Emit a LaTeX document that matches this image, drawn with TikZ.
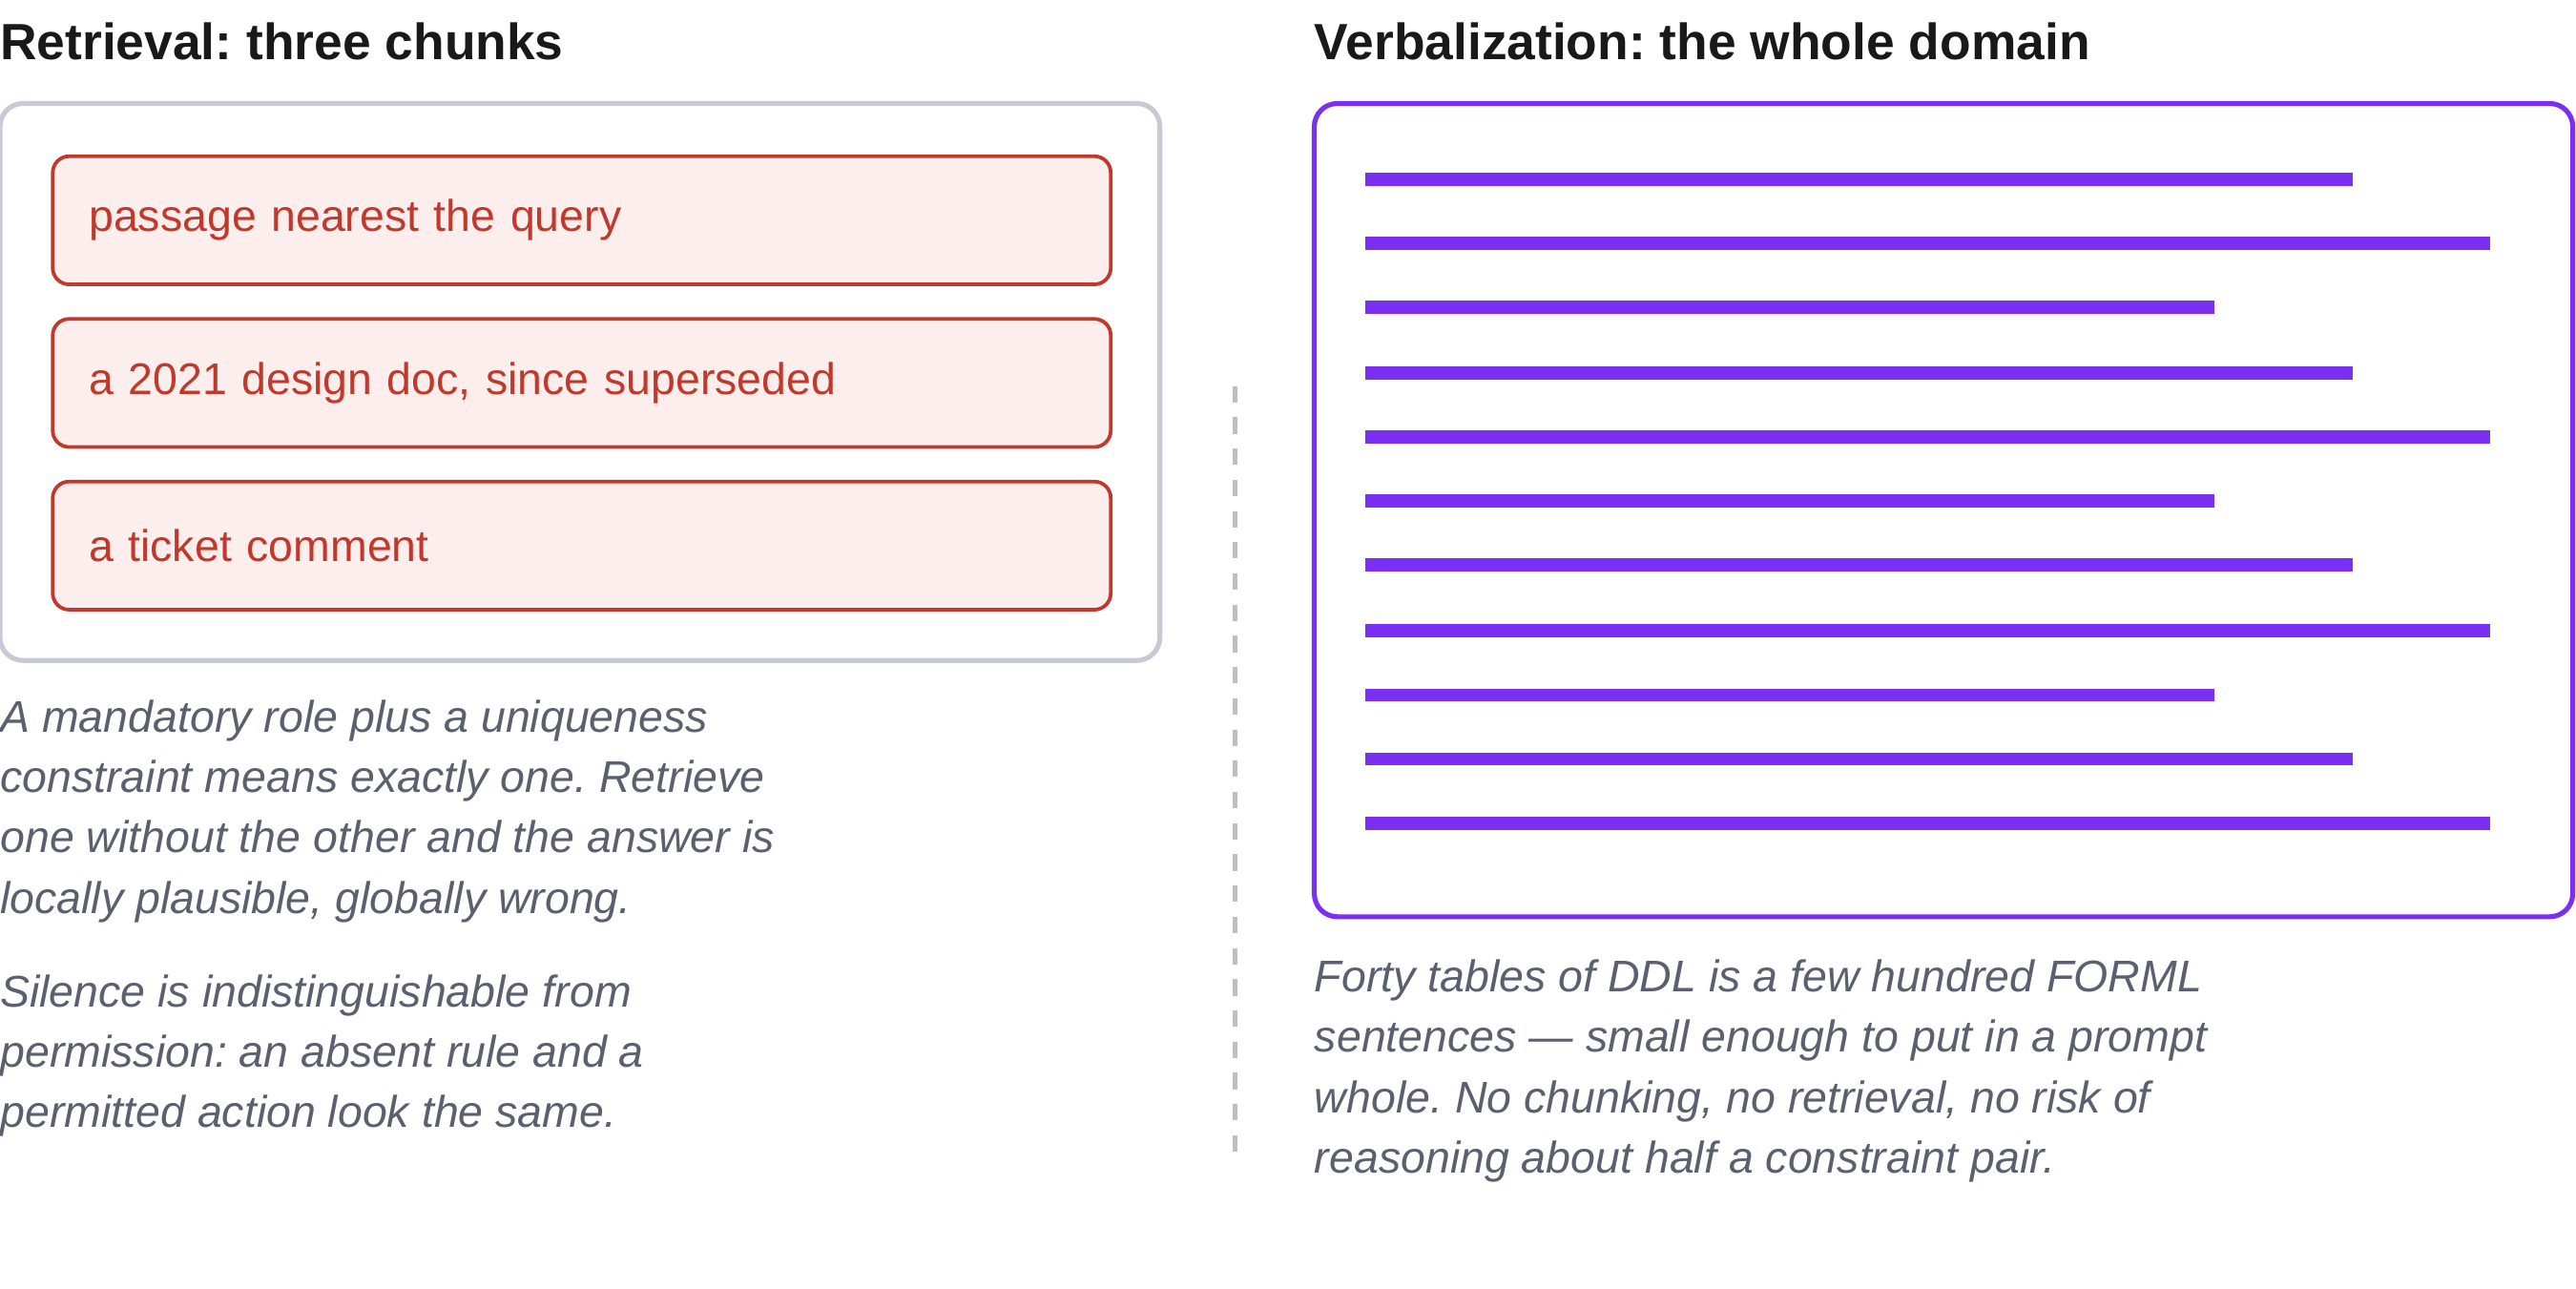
\documentclass[tikz,border=0pt]{standalone}
\usepackage{fontspec}
\setmainfont{Liberation Sans}
\frenchspacing
\definecolor{purp}{HTML}{7B2FF2}
\definecolor{redt}{HTML}{C0392B}
\definecolor{redf}{HTML}{FDEEEE}
\definecolor{notec}{HTML}{5A6070}
\definecolor{boxg}{HTML}{C8C8D6}
\begin{document}
\begin{tikzpicture}[x=1pt,y=-1pt,
  ttl/.style={anchor=west,font=\fontsize{31}{34}\selectfont\bfseries,text=black!90,inner sep=0},
  chunk/.style={draw=redt,fill=redf,line width=2.2pt,rounded corners=10pt,minimum width=644pt,minimum height=78pt,anchor=north west,inner xsep=21pt,text width=600pt,align=left,font=\fontsize{27}{30}\selectfont,text=redt},
  note/.style={anchor=north west,inner sep=0,align=left,font=\fontsize{27}{36.7}\selectfont\itshape,text=notec}]
\useasboundingbox (0,0) rectangle (1568,784);
\node[ttl] (t1) at (0,25) {Retrieval: three chunks};
\node[ttl] (t2) at (800,25) {Verbalization: the whole domain};
\draw[boxg,line width=3pt,rounded corners=14pt] (0,63) rectangle (706,402);
\node[chunk] (c1) at (31,94) {passage nearest the query};
\node[chunk] (c2) at (31,193) {a 2021 design doc, since superseded};
\node[chunk] (c3) at (31,292) {a ticket comment};
\node[note] (n1) at (0,426) {A mandatory role plus a uniqueness\\constraint means exactly one. Retrieve\\one without the other and the answer is\\locally plausible, globally wrong.};
\node[note] (n2) at (0,593) {Silence is indistinguishable from\\permission: an absent rule and a\\permitted action look the same.};
\coordinate (d1) at (752,235); \coordinate (d2) at (752,705);
\draw[black!25,line width=3pt,dash pattern=on 10pt off 9pt] (d1) -- (d2);
\draw[purp,line width=3pt,rounded corners=14pt] (800,63) rectangle (1566,558);
\foreach \y/\e in {109/1432,148/1516,187/1348,227/1432,266/1516,305/1348,344/1432,384/1516,423/1348,462/1432,501/1516}
  \draw[purp,line width=8pt] (831,\y) -- (\e,\y);
\node[note] (n3) at (800,584) {Forty tables of DDL is a few hundred FORML\\sentences — small enough to put in a prompt\\whole. No chunking, no retrieval, no risk of\\reasoning about half a constraint pair.};
\end{tikzpicture}
\end{document}
